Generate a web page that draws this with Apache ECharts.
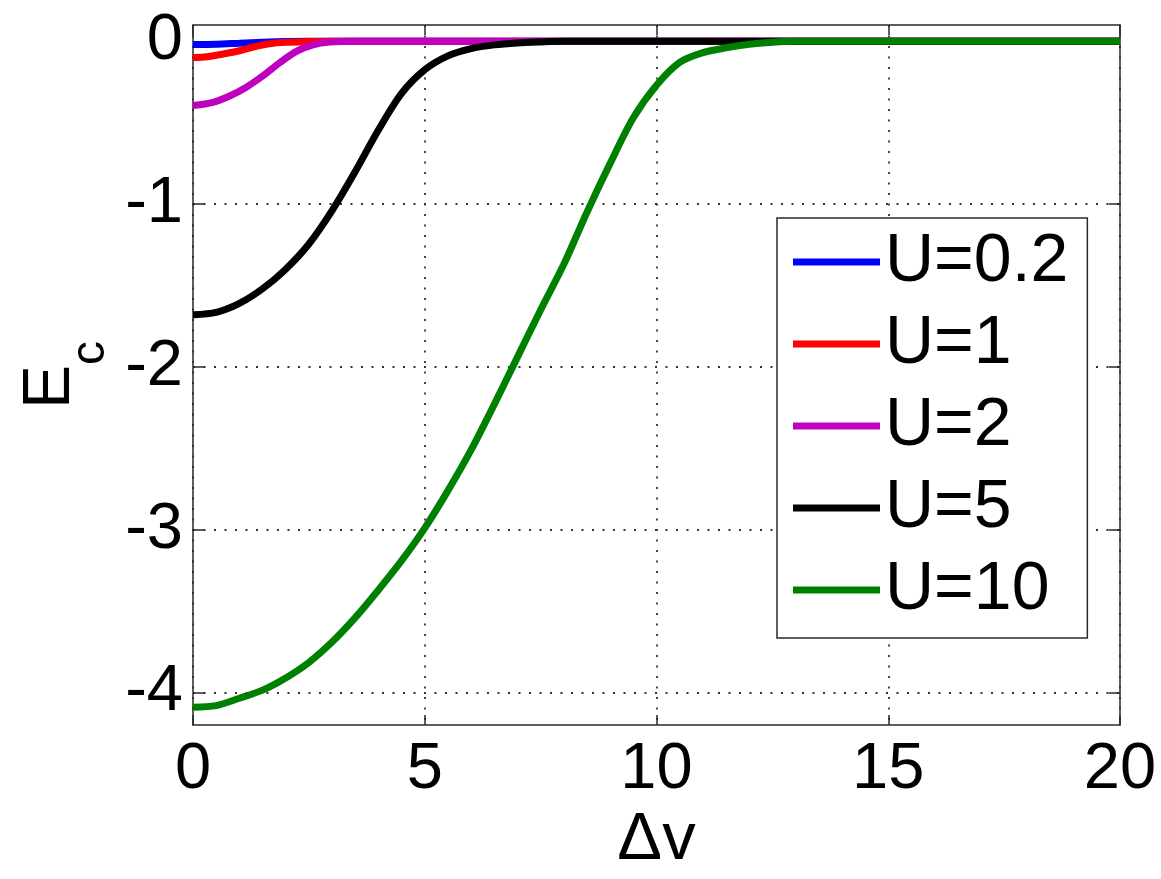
<!DOCTYPE html>
<html>
<head>
<meta charset="utf-8">
<script src="https://cdn.jsdelivr.net/npm/echarts@6/dist/echarts.min.js"></script>
<style>
  html, body { margin: 0; padding: 0; background: #fff; }
  #chart { width: 1161px; height: 879px; }
</style>
</head>
<body>
<div id="chart"></div>
<script>
// Correlation energy E_c versus potential step Δv for several interaction strengths U
const seriesNames = ['U=0.2', 'U=1', 'U=2', 'U=5', 'U=10'];
const seriesColors = ['#0000ff', '#ff0000', '#bf00bf', '#000000', '#008000'];

const dvU02 = [0, 0.5, 1.0, 1.5, 2.0, 3.0, 20];
const ecU02 = [-0.02, -0.018, -0.012, -0.006, -0.002, 0, 0];

const dvU1 = [0, 0.3, 0.65, 1.0, 1.3, 1.65, 2.0, 2.5, 3.0, 20];
const ecU1 = [-0.10, -0.095, -0.078, -0.058, -0.035, -0.015, -0.006, -0.002, 0, 0];

const dvU2 = [0, 0.43, 0.79, 1.15, 1.51, 1.87, 2.23, 2.59, 2.95, 3.5, 20];
const ecU2 = [-0.395, -0.375, -0.336, -0.282, -0.212, -0.132, -0.062, -0.022, -0.005, 0, 0];

const dvU5 = [0, 0.5, 1.0, 1.5, 2.0, 2.5, 3.0, 3.5, 4.0, 4.5, 5.0, 5.5, 6.0, 6.5, 7.0, 7.5, 8.0, 20];
const ecU5 = [-1.68, -1.665, -1.61, -1.52, -1.40, -1.245, -1.04, -0.80, -0.545, -0.32, -0.175, -0.09, -0.045, -0.022, -0.01, -0.004, 0, 0];

const dvU10 = [0, 0.5, 1.0, 1.5, 2.0, 2.5, 3.0, 3.5, 4.0, 4.5, 5.0, 5.5, 6.0, 6.5, 7.0, 7.5, 8.0, 8.5, 9.0, 9.5, 10.0, 10.5, 11.0, 11.5, 12.0, 12.5, 13.0, 20];
const ecU10 = [-4.09, -4.08, -4.035, -3.985, -3.91, -3.815, -3.69, -3.54, -3.37, -3.19, -2.99, -2.76, -2.51, -2.23, -1.94, -1.65, -1.37, -1.05, -0.75, -0.47, -0.27, -0.13, -0.07, -0.04, -0.018, -0.006, 0, 0];

const xTicks = [0, 5, 10, 15, 20];
const yTicks = [-4, -3, -2, -1, 0];

const dvSets = [dvU02, dvU1, dvU2, dvU5, dvU10];
const ecSets = [ecU02, ecU1, ecU2, ecU5, ecU10];

const FONT = 'Liberation Sans, Arial, Helvetica, sans-serif';
const frameColor = '#2a2a2a';
const gridDots = { color: '#333', width: 1.8, type: [2, 8.5] };

const pairs = (xs, ys) => xs.map((x, i) => [x, ys[i]]);

const chart = echarts.init(document.getElementById('chart'), null, { renderer: 'canvas' });

const option = {
  backgroundColor: '#ffffff',
  animation: false,
  grid: { left: 193, right: 41, top: 25, bottom: 139, containLabel: false },
  legend: {
    orient: 'vertical',
    left: 777,
    top: 218,
    icon: 'rect',
    itemWidth: 87,
    itemHeight: 7,
    itemGap: 14,
    padding: [10, 19, 14, 16],
    backgroundColor: '#ffffff',
    borderColor: frameColor,
    borderWidth: 1.5,
    borderRadius: 0,
    textStyle: { fontFamily: FONT, fontSize: 68, lineHeight: 68, color: '#000' },
    data: seriesNames
  },
  xAxis: [
    {
      type: 'value', position: 'bottom',
      min: xTicks[0], max: xTicks[xTicks.length - 1], interval: 5,
      name: 'Δv', nameLocation: 'middle', nameGap: 66,
      nameTextStyle: { fontFamily: FONT, fontSize: 67, color: '#000' },
      axisLine: { show: true, onZero: false, lineStyle: { color: frameColor, width: 1.5 } },
      axisTick: { show: true, inside: true, length: 10, lineStyle: { color: frameColor, width: 1.5 } },
      axisLabel: { show: true, margin: 12, fontFamily: FONT, fontSize: 65, color: '#000' },
      splitLine: { show: true, lineStyle: gridDots }
    },
    {
      type: 'value', position: 'top',
      min: xTicks[0], max: xTicks[xTicks.length - 1], interval: 5,
      axisLine: { show: true, onZero: false, lineStyle: { color: frameColor, width: 1.5 } },
      axisTick: { show: true, inside: true, length: 10, lineStyle: { color: frameColor, width: 1.5 } },
      axisLabel: { show: false },
      splitLine: { show: false }
    }
  ],
  yAxis: [
    {
      type: 'value', position: 'left',
      min: -4.2, max: 0.1,
      name: '{e|E}{s|c}', nameLocation: 'middle', nameRotate: 90, nameGap: 93,
      nameTextStyle: {
        color: '#000',
        rich: {
          e: { fontFamily: FONT, fontSize: 66, lineHeight: 66, verticalAlign: 'top', color: '#000' },
          s: { fontFamily: FONT, fontSize: 48, lineHeight: 48, padding: [49, 0, 0, 0], verticalAlign: 'top', color: '#000' }
        }
      },
      axisLine: { show: true, onZero: false, lineStyle: { color: frameColor, width: 1.5 } },
      axisTick: { show: true, inside: true, length: 11, customValues: yTicks, lineStyle: { color: frameColor, width: 1.5 } },
      axisLabel: { show: true, margin: 10, customValues: yTicks, fontFamily: FONT, fontSize: 65, color: '#000' },
      splitLine: { show: true, lineStyle: gridDots }
    },
    {
      type: 'value', position: 'right',
      min: -4.2, max: 0.1,
      axisLine: { show: true, onZero: false, lineStyle: { color: frameColor, width: 1.5 } },
      axisTick: { show: true, inside: true, length: 11, customValues: yTicks, lineStyle: { color: frameColor, width: 1.5 } },
      axisLabel: { show: false, customValues: yTicks },
      splitLine: { show: false }
    }
  ],
  series: seriesNames.map((name, i) => ({
    name: name,
    type: 'line',
    xAxisIndex: 0,
    yAxisIndex: 0,
    data: pairs(dvSets[i], ecSets[i]),
    showSymbol: false,
    symbol: 'none',
    smooth: 0.3,
    color: seriesColors[i],
    lineStyle: { color: seriesColors[i], width: 7 },
    z: 2 + i
  }))
};

chart.setOption(option);
</script>
</body>
</html>
